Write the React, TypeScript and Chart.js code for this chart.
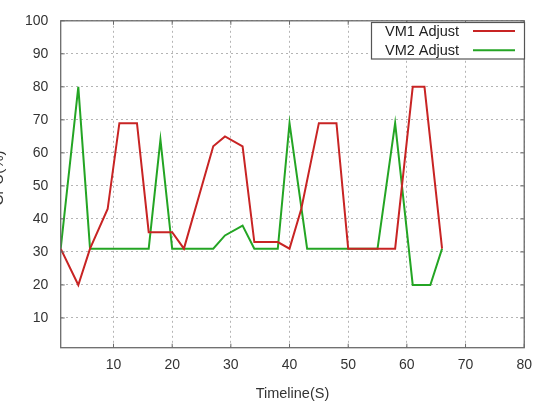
import React, { useEffect, useRef } from "react";
import { Chart, registerables } from "chart.js";

Chart.register(...registerables);

// VM1 adjustment trace
const vm1Time = [1, 4, 6, 9, 11, 14, 16, 20, 22, 27, 29, 32, 34, 38, 40, 42, 45, 48, 50, 58, 61, 63, 66];
const vm1Cpu = [31, 20, 31, 43, 69, 69, 36, 36, 31, 62, 65, 62, 33, 33, 31, 43, 69, 69, 31, 31, 80, 80, 31];

// VM2 adjustment trace
const vm2Time = [1, 4, 6, 16, 18, 20, 27, 29, 32, 34, 38, 40, 43, 55, 58, 61, 64, 66];
const vm2Cpu = [31, 80, 31, 31, 64, 31, 31, 35, 38, 31, 31, 69, 31, 31, 69, 20, 20, 31];

const seriesLabels = ["VM1 Adjust", "VM2 Adjust"];
const seriesColors = ["#c82424", "#24a524"];

const xTitle = "Timeline(S)";
const yTitle = "CPU(%)";
const xMin = 1;
const xMax = 80;
const yMin = 1;
const yMax = 100;
const tickStep = 10;

const FONT = "'Liberation Sans', Arial, sans-serif";

const toPoints = (xs: number[], ys: number[]) => xs.map((x, i) => ({ x, y: ys[i] }));

// Frame, inward tick marks, boxed key and the rotated y title
const framePlugin = {
  id: "frame",
  afterDatasetsDraw(chart: any) {
    const { ctx, chartArea } = chart;
    const { left, right, top, bottom } = chartArea;
    const xs = chart.scales.x;
    const ys = chart.scales.y;
    ctx.save();
    ctx.strokeStyle = "#6a6a6a";
    ctx.lineWidth = 1.3;
    ctx.setLineDash([]);
    ctx.strokeRect(left, top, right - left, bottom - top);

    const tl = 4;
    ctx.lineWidth = 1;
    ctx.beginPath();
    xs.ticks.forEach((t: any) => {
      const px = xs.getPixelForValue(t.value);
      ctx.moveTo(px, bottom);
      ctx.lineTo(px, bottom - tl);
      ctx.moveTo(px, top);
      ctx.lineTo(px, top + tl);
    });
    ys.ticks.forEach((t: any) => {
      const py = ys.getPixelForValue(t.value);
      ctx.moveTo(left, py);
      ctx.lineTo(left + tl, py);
      ctx.moveTo(right, py);
      ctx.lineTo(right - tl, py);
    });
    ctx.stroke();

    // key box
    const boxL = 371.5;
    const boxT = 22.5;
    const boxW = 153;
    const boxH = 36.5;
    ctx.fillStyle = "#ffffff";
    ctx.fillRect(boxL, boxT, boxW, boxH);
    ctx.strokeStyle = "#555555";
    ctx.lineWidth = 1.2;
    ctx.strokeRect(boxL, boxT, boxW, boxH);
    ctx.font = `14.5px ${FONT}`;
    ctx.textBaseline = "middle";
    ctx.textAlign = "left";
    chart.data.datasets.forEach((ds: any, i: number) => {
      const rowY = 31 + i * 19.3;
      ctx.fillStyle = "#222222";
      ctx.fillText(ds.label, 385, rowY + 0.5);
      ctx.strokeStyle = ds.borderColor;
      ctx.lineWidth = 2;
      ctx.beginPath();
      ctx.moveTo(473, rowY);
      ctx.lineTo(515, rowY);
      ctx.stroke();
    });

    // y title, partly off the left edge
    ctx.save();
    ctx.translate(3, 178);
    ctx.rotate(-Math.PI / 2);
    ctx.font = `15px ${FONT}`;
    ctx.fillStyle = "#333333";
    ctx.textAlign = "center";
    ctx.textBaseline = "alphabetic";
    ctx.fillText(yTitle, 0, 0);
    ctx.restore();

    ctx.restore();
  },
};

const keepDecades = (scale: any) => {
  scale.ticks = scale.ticks.filter((t: any) => t.value % tickStep === 0);
};

export default function App() {
  const canvasRef = useRef<HTMLCanvasElement | null>(null);

  useEffect(() => {
    const canvas = canvasRef.current;
    if (!canvas) return;
    const chart = new Chart(canvas, {
      type: "line",
      data: {
        datasets: [
          {
            label: seriesLabels[0],
            data: toPoints(vm1Time, vm1Cpu),
            borderColor: seriesColors[0],
            backgroundColor: seriesColors[0],
            borderWidth: 2,
            pointRadius: 0,
            tension: 0,
            fill: false,
          },
          {
            label: seriesLabels[1],
            data: toPoints(vm2Time, vm2Cpu),
            borderColor: seriesColors[1],
            backgroundColor: seriesColors[1],
            borderWidth: 2,
            pointRadius: 0,
            tension: 0,
            fill: false,
          },
        ],
      },
      options: {
        responsive: false,
        animation: false,
        devicePixelRatio: 1,
        layout: { padding: { left: 0, right: 8, top: 18, bottom: 0 } },
        plugins: {
          legend: { display: false },
          tooltip: { enabled: false },
          title: { display: false },
        },
        scales: {
          x: {
            type: "linear",
            min: xMin,
            max: xMax,
            afterBuildTicks: keepDecades,
            afterFit: (s: any) => {
              s.height = 54.3;
            },
            ticks: {
              stepSize: tickStep,
              autoSkip: false,
              maxRotation: 0,
              padding: 9,
              color: "#333333",
              font: { family: FONT, size: 14 },
            },
            grid: { color: "#b4b4b4", lineWidth: 1, drawTicks: false },
            border: { display: false, dash: [2, 3] },
            title: {
              display: true,
              text: xTitle,
              color: "#333333",
              font: { family: FONT, size: 14.5, lineHeight: 1 },
              padding: { top: 0, bottom: 1 },
            },
          },
          y: {
            type: "linear",
            min: yMin,
            max: yMax,
            afterBuildTicks: keepDecades,
            afterFit: (s: any) => {
              s.width = 60.7;
            },
            ticks: {
              stepSize: tickStep,
              autoSkip: false,
              padding: 12.4,
              color: "#333333",
              font: { family: FONT, size: 14 },
            },
            grid: { color: "#b4b4b4", lineWidth: 1, drawTicks: false },
            border: { display: false, dash: [2, 3] },
          },
        },
      },
      plugins: [framePlugin],
    });
    return () => chart.destroy();
  }, []);

  return (
    <div style={{ position: "fixed", left: 0, top: 0, width: 541, height: 402, background: "#ffffff" }}>
      <canvas ref={canvasRef} width={541} height={402} style={{ display: "block" }} />
    </div>
  );
}
